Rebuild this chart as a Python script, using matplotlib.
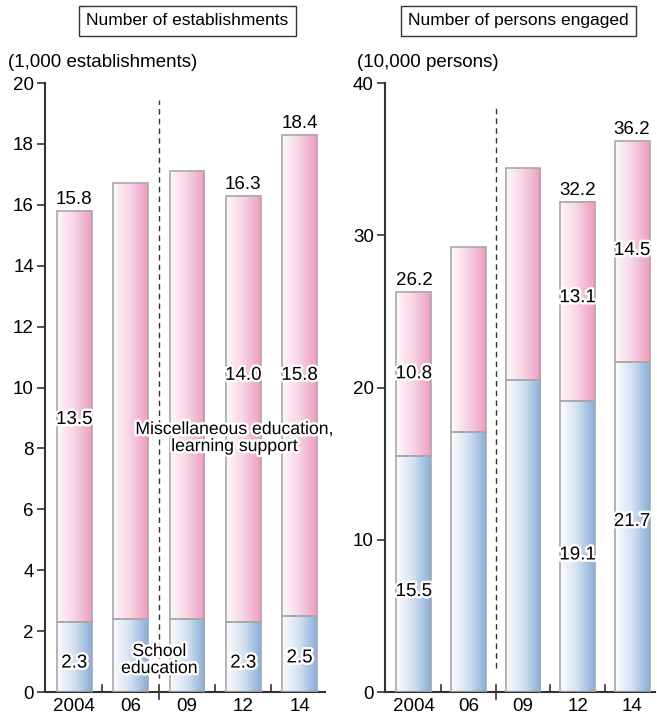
import numpy as np
import matplotlib
matplotlib.use("Agg")
import matplotlib.pyplot as plt
from matplotlib.colors import LinearSegmentedColormap
from matplotlib.patches import Rectangle
import matplotlib.patheffects as pe

plt.rcParams['font.family'] = ['Liberation Sans', 'DejaVu Sans']

years = ["2004", "06", "09", "12", "14"]

# Number of establishments (1,000)
est_school = [2.3, 2.4, 2.4, 2.3, 2.5]
est_misc = [13.5, 14.3, 14.7, 14.0, 15.8]
est_total_labels = {0: "15.8", 3: "16.3", 4: "18.4"}
est_school_labels = {0: "2.3", 3: "2.3", 4: "2.5"}
est_misc_labels = {0: "13.5", 3: "14.0", 4: "15.8"}

# Number of persons engaged (10,000)
per_school = [15.5, 17.1, 20.5, 19.1, 21.7]
per_misc = [10.8, 12.1, 13.9, 13.1, 14.5]
per_total_labels = {0: "26.2", 3: "32.2", 4: "36.2"}
per_school_labels = {0: "15.5", 3: "19.1", 4: "21.7"}
per_misc_labels = {0: "10.8", 3: "13.1", 4: "14.5"}

blue_cmap = LinearSegmentedColormap.from_list("blue", ["#fbfcfe", "#d3e0f2", "#88aedb"])
pink_cmap = LinearSegmentedColormap.from_list("pink", ["#fff8fb", "#f7d3e3", "#ee9cc1"])
grad = np.linspace(0, 1, 256).reshape(1, -1)

halo = [pe.withStroke(linewidth=3.5, foreground="white")]
NUM_FS = 13.5


def gradient_bar(ax, x, bottom, height, width, cmap):
    x0, x1 = x - width / 2, x + width / 2
    ax.imshow(grad, cmap=cmap, extent=[x0, x1, bottom, bottom + height],
              aspect="auto", origin="lower", zorder=2, interpolation="bilinear")
    ax.add_patch(Rectangle((x0, bottom), width, height, fill=False,
                           edgecolor="#a8a8a8", linewidth=1.2, zorder=3))


def draw_panel(ax, school, misc, width, ymax, ystep, xlim,
               school_lbl, misc_lbl, total_lbl, school_y, misc_y, total_pad,
               dash_span):
    x = np.arange(len(years))
    for i in x:
        gradient_bar(ax, i, 0, school[i], width, blue_cmap)
        gradient_bar(ax, i, school[i], misc[i], width, pink_cmap)
    for i, t in school_lbl.items():
        ax.text(i, school_y[i], t, ha="center", va="center", fontsize=NUM_FS,
                path_effects=halo, zorder=5)
    for i, t in misc_lbl.items():
        ax.text(i, misc_y[i], t, ha="center", va="center", fontsize=NUM_FS,
                path_effects=halo, zorder=5)
    for i, t in total_lbl.items():
        ax.text(i, school[i] + misc[i] + total_pad, t, ha="center", va="bottom",
                fontsize=NUM_FS, zorder=5)

    ax.set_xlim(*xlim)
    ax.set_ylim(0, ymax)
    ax.set_yticks(np.arange(0, ymax + 0.01, ystep))
    ax.set_xticks(x)
    ax.set_xticklabels(years, fontsize=NUM_FS)
    ax.tick_params(axis="x", length=0, pad=4)
    ax.tick_params(axis="y", direction="out", length=6, width=1.2,
                   labelsize=NUM_FS, color="#333333", pad=2)
    for s in ("top", "right"):
        ax.spines[s].set_visible(False)
    for s in ("left", "bottom"):
        ax.spines[s].set_color("#333333")
        ax.spines[s].set_linewidth(1.5)

    # separator ticks between the years on the x axis
    tick_len = ymax * 0.012
    for b in (0.5, 2.5, 3.5):
        ax.plot([b, b], [0, tick_len], color="#333333", lw=1.2,
                clip_on=False, zorder=4)
    ax.plot([1.5, 1.5], [-tick_len, tick_len], color="#333333", lw=1.2,
            clip_on=False, zorder=4)
    # dashed break between 06 and 09
    ax.plot([1.5, 1.5], [ymax * dash_span[0], ymax * dash_span[1]],
            color="#333333", lw=1.0, ls=(0, (4, 3)), zorder=1)


fig = plt.figure(figsize=(6.57, 7.18), dpi=100)

axL = fig.add_axes([0.0685, 0.0362, 0.4262, 0.8482])
draw_panel(axL, est_school, est_misc, 0.62, 20, 2, (-0.52, 4.45),
           est_school_labels, est_misc_labels, est_total_labels,
           school_y={0: 0.95, 3: 0.95, 4: 1.12},
           misc_y={0: 8.95, 3: 10.4, 4: 10.4}, total_pad=0.1,
           dash_span=(0.023, 0.972))
axL.text(2.84, 8.34, "Miscellaneous education,\nlearning support", ha="center",
         va="center", fontsize=12.7, linespacing=1.0, path_effects=halo,
         zorder=6, clip_on=False)
axL.text(1.51, 1.05, "School\neducation", ha="center", va="center", fontsize=12.7,
         linespacing=1.0, path_effects=halo, zorder=6)

axR = fig.add_axes([0.586, 0.0362, 0.411, 0.8482])
draw_panel(axR, per_school, per_misc, 0.64, 40, 10, (-0.53, 4.42),
           per_school_labels, per_misc_labels, per_total_labels,
           school_y={0: 6.6, 3: 9.0, 4: 11.2},
           misc_y={0: 20.9, 3: 25.9, 4: 29.0}, total_pad=0.2,
           dash_span=(0.04, 0.964))

# panel headings and units
box = dict(boxstyle="square,pad=0.42", fc="white", ec="#333333", lw=1.0)
fig.text(0.2854, 0.9708, "Number of establishments", ha="center", va="center",
         fontsize=12.5, bbox=box)
fig.text(0.789, 0.9708, "Number of persons engaged", ha="center", va="center",
         fontsize=12.5, bbox=box)
fig.text(0.012, 0.9136, "(1,000 establishments)", ha="left", va="center",
         fontsize=13.5)
fig.text(0.543, 0.9136, "(10,000 persons)", ha="left", va="center",
         fontsize=13.5)

fig.savefig("out.png", dpi=100)
